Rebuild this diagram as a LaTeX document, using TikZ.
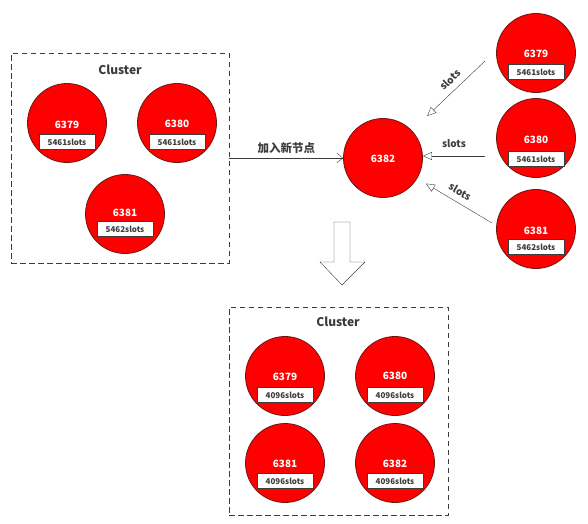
\documentclass[tikz,border=0pt]{standalone}
\usepackage{fontspec}
\setmainfont{Noto Sans CJK SC}
\usetikzlibrary{positioning, arrows.meta}

\definecolor{rimred}{RGB}{110,20,20}
\definecolor{inkgray}{RGB}{60,60,60}

\tikzset{
  redis/.style={circle, draw=rimred, thick, fill=red, minimum size=79pt, inner sep=0pt},
  port/.style={text=white, font=\bfseries\normalsize, inner sep=0pt},
  slotbox/.style={rectangle, draw=inkgray, fill=white, text=inkgray, minimum width=56pt, minimum height=15pt, inner sep=0pt, font=\bfseries\footnotesize},
  cluster/.style={rectangle, draw=inkgray, thick, dash pattern=on 5.5pt off 3.5pt},
  title/.style={text=inkgray, font=\bfseries\large},
  tag/.style={text=inkgray, font=\bfseries\normalsize},
  slotarrow/.style={draw=inkgray, {Triangle[open, length=9pt, width=8pt]}-},
}

\begin{document}
\begin{tikzpicture}[x=1pt, y=-1pt]
\useasboundingbox (0,0) rectangle (588,523);

% old cluster
\node[cluster, minimum width=218pt, minimum height=210pt] (box1) at (120,158) {};
\node[title] (t1) at (120,70) {Cluster};
\node[redis] (a1) at (67,123) {};
\node[port] (a1p) at (67,125) {6379};
\node[slotbox] (a1s) at (67,142) {5461slots};
\node[redis] (a2) at (177,123) {};
\node[port] (a2p) at (177,124) {6380};
\node[slotbox] (a2s) at (177,142) {5461slots};
\node[redis] (a3) at (125,214) {};
\node[port] (a3p) at (125,213) {6381};
\node[slotbox] (a3s) at (125,229) {5462slots};

% new node
\node[redis] (n5) at (383,158) {};
\node[port] (n5p) at (383,159) {6382};
\draw[inkgray, -{Straight Barb[length=6pt, width=10pt]}] (box1) -- (n5) node[midway, above=1pt, text=inkgray, font=\bfseries\fontsize{11.5}{13}\selectfont] {加入新节点};

% slot sources
\node[redis] (r1) at (536,53) {};
\node[port] (r1p) at (536,54) {6379};
\node[slotbox] (r1s) at (536,72) {5461slots};
\node[redis] (r2) at (536,138) {};
\node[port] (r2p) at (536,140) {6380};
\node[slotbox] (r2s) at (536,159) {5461slots};
\node[redis] (r3) at (536,229) {};
\node[port] (r3p) at (536,231) {6381};
\node[slotbox] (r3s) at (536,247) {5462slots};

\coordinate (m1) at (485,61);
\coordinate (m2) at (485,156);
\coordinate (m3) at (492,223);
\draw[slotarrow, shorten <=21pt] (n5) -- (m1) node[pos=0.62, sloped, above=3pt, tag] {slots};
\draw[slotarrow] (n5.east |- m2) -- (m2) node[pos=0.5, above=5pt, tag] {slots};
\draw[slotarrow, shorten <=10pt] (n5) -- (m3) node[midway, sloped, above=3pt, tag] {slots};

% big arrow
\draw[inkgray, fill=white] (334,222) -- (350,222) -- (350,262) -- (365,262) -- (342,285) -- (320,262) -- (334,262) -- cycle;

% new cluster
\node[cluster, minimum width=219pt, minimum height=208pt] (box2) at (338.5,411) {};
\node[title] (t2) at (338,322) {Cluster};
\node[redis] (b1) at (285,376) {};
\node[port] (b1p) at (285,377) {6379};
\node[slotbox] (b1s) at (285,395) {4096slots};
\node[redis] (b2) at (395,376) {};
\node[port] (b2p) at (395,376) {6380};
\node[slotbox] (b2s) at (395,395) {4096slots};
\node[redis] (b3) at (285,463) {};
\node[port] (b3p) at (285,464) {6381};
\node[slotbox] (b3s) at (285,481) {4096slots};
\node[redis] (b4) at (395,463) {};
\node[port] (b4p) at (395,464) {6382};
\node[slotbox] (b4s) at (395,481) {4096slots};
\end{tikzpicture}
\end{document}
